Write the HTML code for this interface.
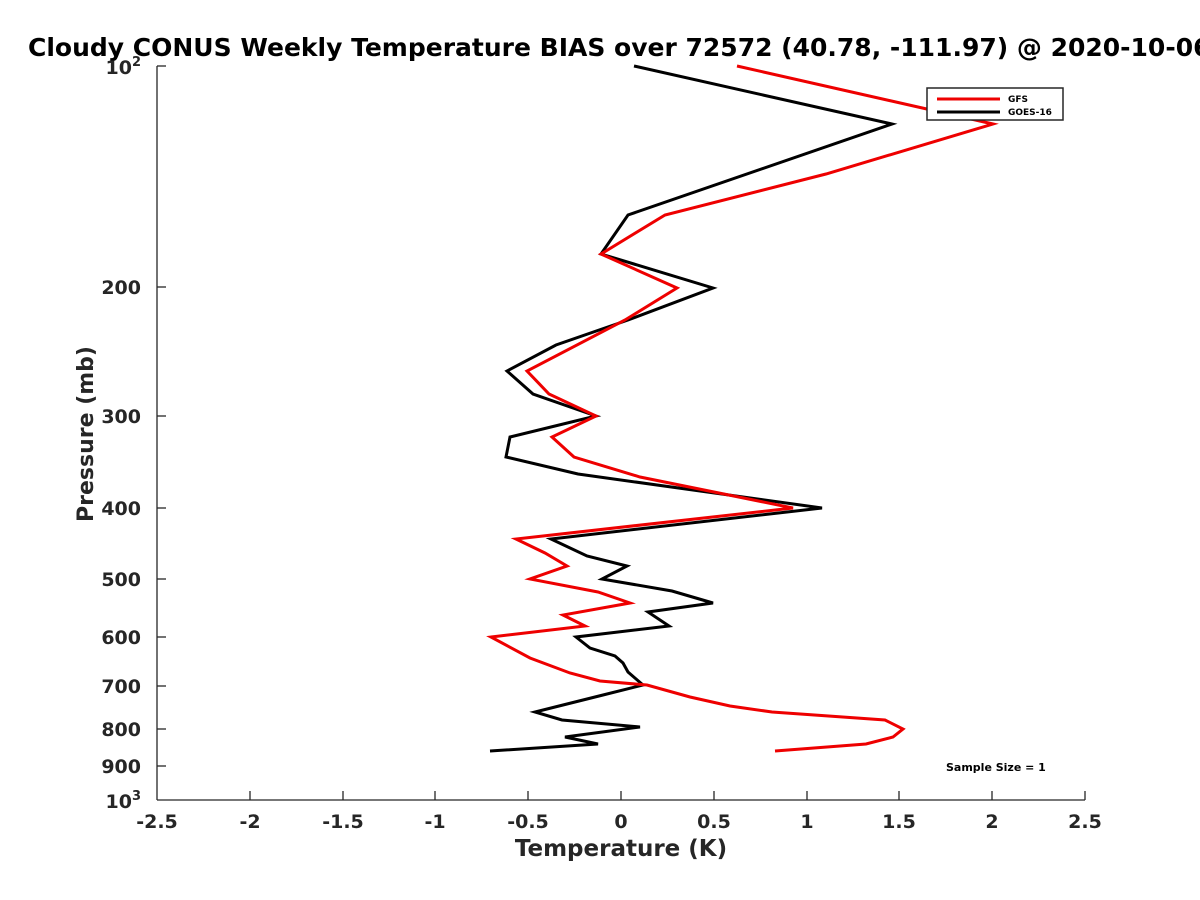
<!DOCTYPE html>
<html><head><meta charset="utf-8"><style>
html,body{margin:0;padding:0;background:#fff;}
svg{display:block;font-family:"Liberation Sans","DejaVu Sans",sans-serif;}
</style></head><body>
<svg width="1200" height="900" viewBox="0 0 1200 900" xmlns="http://www.w3.org/2000/svg">
<rect width="1200" height="900" fill="#fff"/>
<text x="28" y="56" font-size="25" font-weight="bold" fill="#000" font-family="DejaVu Sans, sans-serif">Cloudy CONUS Weekly Temperature BIAS over 72572 (40.78, -111.97) @ 2020-10-06</text>
<g stroke="#262626" stroke-width="1.3" fill="none">
<line x1="157" y1="66" x2="157" y2="800"/>
<line x1="157" y1="800" x2="1085" y2="800"/>
<line x1="157" y1="287" x2="166" y2="287"/><line x1="157" y1="416" x2="166" y2="416"/><line x1="157" y1="508" x2="166" y2="508"/><line x1="157" y1="579" x2="166" y2="579"/><line x1="157" y1="637" x2="166" y2="637"/><line x1="157" y1="686" x2="166" y2="686"/><line x1="157" y1="729" x2="166" y2="729"/><line x1="157" y1="766" x2="166" y2="766"/><line x1="157" y1="66" x2="166" y2="66"/>
<line x1="250" y1="800" x2="250" y2="791"/><line x1="343" y1="800" x2="343" y2="791"/><line x1="435" y1="800" x2="435" y2="791"/><line x1="528" y1="800" x2="528" y2="791"/><line x1="621" y1="800" x2="621" y2="791"/><line x1="714" y1="800" x2="714" y2="791"/><line x1="807" y1="800" x2="807" y2="791"/><line x1="899" y1="800" x2="899" y2="791"/><line x1="992" y1="800" x2="992" y2="791"/><line x1="1085" y1="800" x2="1085" y2="791"/>
</g>
<g font-size="19" font-weight="bold" fill="#262626" font-family="DejaVu Sans, sans-serif" text-anchor="end">
<text x="141" y="74">10<tspan dy="-8" font-size="13">2</tspan></text>
<text x="141" y="294">200</text><text x="141" y="423">300</text><text x="141" y="515">400</text><text x="141" y="586">500</text><text x="141" y="644">600</text><text x="141" y="693">700</text><text x="141" y="736">800</text><text x="141" y="773">900</text>
<text x="141" y="808">10<tspan dy="-8" font-size="13">3</tspan></text>
</g>
<g font-size="19" font-weight="bold" fill="#262626" font-family="DejaVu Sans, sans-serif" text-anchor="middle">
<text x="157" y="828">-2.5</text><text x="250" y="828">-2</text><text x="343" y="828">-1.5</text><text x="435" y="828">-1</text><text x="528" y="828">-0.5</text><text x="621" y="828">0</text><text x="714" y="828">0.5</text><text x="807" y="828">1</text><text x="899" y="828">1.5</text><text x="992" y="828">2</text><text x="1085" y="828">2.5</text>
<text x="621" y="856" font-size="23">Temperature (K)</text>
<text transform="translate(93,434) rotate(-90)" font-size="22">Pressure (mb)</text>
</g>
<polyline fill="none" stroke="#000" stroke-width="3" points="634,66 892,124 628,215 601,254 713,288 628,320 556,345 507,371 533,394 596,416 510,437 506,457 578,474 822,508 551,539 587,556 627,566 602,579 672,591 713,603 648,612 669,626 576,637 590,648 615,656 623,663 628,672 643,685 603,695 563,705 535,712 562,720 640,727 565,737 598,744 490,751"/>
<polyline fill="none" stroke="#e00" stroke-width="3" points="737,66 993,124 826,174 665,215 601,254 677,288 625,320 527,371 549,394 596,416 552,437 574,457 640,477 793,508 516,539 545,553 567,566 530,579 598,592 630,603 563,615 585,626 491,637 530,658 570,673 600,681 647,685 690,697 730,706 772,712 885,720 903,729 893,737 866,744 775,751"/>
<rect x="927" y="88" width="136" height="32" fill="#fff" stroke="#262626" stroke-width="1.5"/>
<line x1="937" y1="99" x2="1000" y2="99" stroke="#e00" stroke-width="3"/>
<line x1="937" y1="112" x2="1000" y2="112" stroke="#000" stroke-width="3"/>
<g font-size="9" font-weight="bold" fill="#000" font-family="DejaVu Sans, sans-serif">
<text x="1008" y="102">GFS</text><text x="1008" y="115">GOES-16</text>
<text x="946" y="771" font-size="11">Sample Size = 1</text>
</g>
</svg>
</body></html>
